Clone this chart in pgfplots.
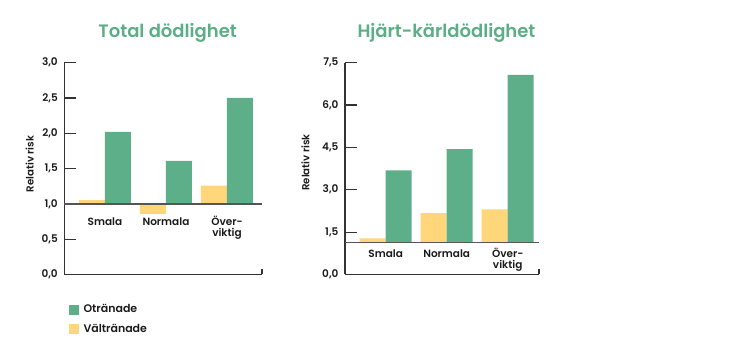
\documentclass[border=0pt]{standalone}
\usepackage{pgfplots}
\pgfplotsset{compat=1.18}
\usepackage{pgfplotstable}
\usepackage{fontspec}
\setmainfont{Poppins}
\newfontfamily\psemi{Poppins SemiBold}
\definecolor{grn}{HTML}{5DAF89}
\definecolor{ylw}{HTML}{FFD679}
\definecolor{axc}{HTML}{333333}
\definecolor{basec}{HTML}{555555}
\definecolor{txt}{HTML}{1A1A1A}
\definecolor{ttl}{HTML}{5BAE86}

\pgfplotstableread{
x yv gv
0 1.055 2.02
1 0.857 1.61
2 1.26 2.50
}\lefttab
\pgfplotstableread{
x yv gv
0 1.28 3.69
1 2.17 4.44
2 2.31 7.07
}\righttab

\pgfplotsset{
 panel/.style={
  scale only axis, anchor=south west,
  height=211.8pt,
  ybar=0pt, bar width=26pt,
  axis x line*=bottom, axis y line*=left,
  axis line style={-, draw=axc, line width=1.2pt},
  xtick={0,1,2}, xticklabels={{Smala\\~},{Normala\\~},{Över-\\viktig}},
  x tick style={draw=none},
  y tick style={draw=axc, line width=1.2pt},
  major tick length=12pt, tick align=inside,
  ticklabel style={font=\psemi\fontsize{10.5}{11}\selectfont, text=txt},
  yticklabel style={xshift=-3pt},
  xticklabel style={align=center, anchor=base},
  every axis y label/.style={at={(axis description cs:0,0.5)}, rotate=90, anchor=center, font=\psemi\fontsize{10.2}{11}\selectfont, text=txt},
  ylabel={Relativ risk},
  every axis title/.style={at={(axis description cs:0.5,1)}, anchor=base, yshift=25pt, xshift=4.5pt, font=\psemi\fontsize{18}{20}\selectfont, text=ttl},
  clip=false,
 },
 sqg/.style={legend image code/.code={\fill[grn] (0pt,-5pt) rectangle (10pt,5pt);}},
 sqy/.style={legend image code/.code={\fill[ylw] (0pt,-5pt) rectangle (10pt,5pt);}},
}

\begin{document}
\begin{tikzpicture}
\path[use as bounding box] (0pt,0pt) rectangle (733pt,352pt);

\begin{axis}[panel,
  at={(64.3pt,77.5pt)}, width=197.7pt,
  xmin=-0.667, xmax=2.574,
  ymin=-1, ymax=2,
  y filter/.expression={y-1},
  ytick={-1,-0.5,0,0.5,1,1.5,2},
  yticklabels={{0,0},{0,5},{1,0},{1,5},{2,0},{2,5},{3,0}},
  xticklabel style={yshift=37.8pt},
  ylabel style={yshift=34.7pt, xshift=4.6pt},
  title={Total dödlighet},
  legend style={at={(axis description cs:0,0)}, anchor=north west, xshift=4pt, yshift=-28pt,
    draw=none, fill=none, font=\psemi\fontsize{11}{12}\selectfont, text=txt,
    row sep=6pt, column sep=3pt, inner sep=0pt},
  legend cell align=left,
  reverse legend,
]
\addplot[fill=ylw, draw=none, sqy] table[x=x, y=yv] {\lefttab};
\addlegendentry{Vältränade}
\addplot[fill=grn, draw=none, sqg] table[x=x, y=gv] {\lefttab};
\addlegendentry{Otränade}
\draw[basec, line width=1.4pt] (axis cs:-0.667,0) -- (axis cs:2.574,0);
\draw[axc, line width=1.2pt] (axis cs:2.574,-1) -- ++(0pt,5pt);
\end{axis}

\begin{axis}[panel,
  at={(345pt,77.5pt)}, width=194pt,
  xmin=-0.667, xmax=2.513,
  ymin=-1.14, ymax=6.36,
  y filter/.expression={y-1.14},
  ytick={-1.14,0.36,1.86,3.36,4.86,6.36},
  yticklabels={{0,0},{1,5},{3,0},{4,5},{6,0},{7,5}},
  xticklabel style={yshift=6.2pt},
  ylabel style={yshift=39.5pt, xshift=6.1pt},
  title={Hjärt-kärldödlighet},
]
\addplot[fill=ylw, draw=none] table[x=x, y=yv] {\righttab};
\addplot[fill=grn, draw=none] table[x=x, y=gv] {\righttab};
\draw[basec, line width=1.4pt] (axis cs:-0.667,0) -- (axis cs:2.513,0);
\draw[axc, line width=1.2pt] (axis cs:2.513,-1.14) -- ++(0pt,5pt);
\end{axis}
\end{tikzpicture}
\end{document}
